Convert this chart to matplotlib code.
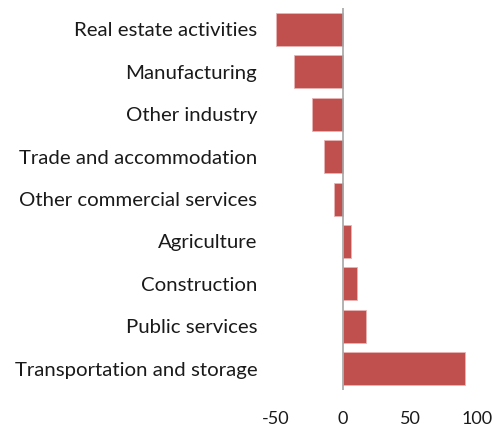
import numpy as np
import matplotlib.pyplot as plt

# sectors, top to bottom
sectors = ["Real estate activities", "Manufacturing", "Other industry",
           "Trade and accommodation", "Other commercial services", "Agriculture",
           "Construction", "Public services", "Transportation and storage"]
values = [-50, -36.3, -23.4, -13.9, -6.7, 6, 10.4, 17.4, 90.8]
xticks = [-50, 0, 50, 100]

plt.rcParams['font.family'] = ['Lato', 'DejaVu Sans']

fig = plt.figure(figsize=(4.92, 4.29), dpi=100)
ax = fig.add_axes([0.561, 0.091, 0.4085, 0.890])

y = np.arange(len(sectors))
ax.barh(y, values, height=0.78, color='#C0504D', edgecolor='#E8B4B3', linewidth=0.6, zorder=2)
ax.axvline(0, color='#A6A6A6', lw=1.2, zorder=3)

ax.set_ylim(len(sectors) - 0.5, -0.5)
ax.set_xlim(-50, 100)
ax.set_yticks(y)
ax.set_yticklabels(sectors, fontsize=14.7, color='#1a1a1a')
ax.set_xticks(xticks)
ax.set_xticklabels([str(t) for t in xticks], fontsize=13, color='#1a1a1a')
ax.tick_params(axis='both', length=0)
ax.tick_params(axis='y', pad=13.5)
ax.tick_params(axis='x', pad=15)
for s in ax.spines.values():
    s.set_visible(False)

plt.savefig('out.png', dpi=100)
